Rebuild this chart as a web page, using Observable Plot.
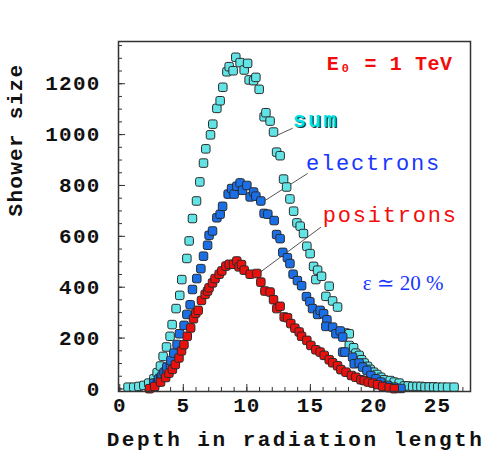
<!DOCTYPE html>
<html>
<head>
<meta charset="utf-8">
<script src="https://cdn.jsdelivr.net/npm/d3@7"></script>
<script src="https://cdn.jsdelivr.net/npm/@observablehq/plot@0.6"></script>
<style>
  html, body { margin: 0; padding: 0; background: #fff; }
</style>
</head>
<body>
<div id="chart"></div>
<script>
// ---- data ----
const sumDepth = [0.65,1.10,1.50,1.89,2.28,2.68,2.94,3.20,3.41,3.68,3.96,4.12,4.43,4.72,4.88,5.28,5.46,5.72,6.04,6.30,6.59,6.77,7.14,7.32,7.64,7.90,8.11,8.43,8.61,8.92,9.13,9.47,9.79,10.06,10.18,10.53,10.71,10.97,11.36,11.50,11.83,12.10,12.34,12.62,12.89,13.13,13.39,13.68,13.94,14.20,14.46,14.72,14.98,15.25,15.57,15.43,15.88,16.22,16.48,16.75,17.14,17.80,18.06,18.06,18.40,18.58,18.84,19.03,19.24,19.50,19.71,19.98,20.24,20.55,20.81,21.28,21.60,21.99,22.39,22.70,23.05,23.39,23.70,24.02,24.35,24.70,25.02,25.41,25.80,26.31];
const sumSize  = [7,7,10,14,23,40,64,90,128,165,207,253,316,368,430,513,582,670,739,814,888,944,999,1041,1103,1133,1186,1247,1267,1251,1304,1283,1254,1280,1215,1212,1225,1178,1070,1086,1053,1010,931,917,825,794,747,699,653,640,611,561,532,482,467,430,443,364,404,346,322,220,217,171,162,141,132,115,102,89,77,66,57,46,36,33,27,23,12,12,10,10,10,8,8,8,7,7,7,7];

const elecDepth = [2.68,2.97,3.07,3.23,3.33,3.49,3.68,3.70,3.99,4.02,4.25,4.51,4.70,5.06,5.28,5.54,5.72,6.06,6.38,6.59,6.91,7.03,7.30,7.64,7.90,8.09,8.53,8.80,9.00,9.21,9.47,9.66,10.00,10.26,10.53,10.71,11.10,11.36,11.65,12.15,12.34,12.62,12.83,13.19,13.39,13.64,13.98,14.31,14.69,14.96,15.17,15.57,15.77,16.04,16.30,16.22,16.75,17.01,17.35,17.54,17.54,17.72,18.32,18.45,18.84,19.11,19.45,19.76,20.16,20.55,21.08,21.60,22.13];
const elecSize  = [23,27,40,46,53,66,73,86,93,112,141,175,217,250,293,331,391,434,473,522,565,604,621,673,687,718,766,788,766,797,810,781,800,755,774,758,739,690,687,662,607,591,537,516,493,451,426,406,363,343,316,293,309,296,272,246,243,217,228,204,145,145,125,99,102,86,73,53,40,27,14,7,2];

const posDepth = [2.34,2.75,3.21,3.61,3.87,4.14,4.37,4.66,4.86,5.05,5.31,5.58,5.80,5.98,6.17,6.43,6.72,6.91,7.03,7.30,7.50,7.82,8.03,8.35,8.61,8.95,9.21,9.39,9.58,9.79,10.26,10.79,11.10,11.42,11.83,12.10,12.36,12.62,12.94,13.20,13.46,13.78,14.12,14.31,14.72,15.04,15.43,15.77,16.09,16.48,16.75,17.14,17.40,17.80,18.23,18.58,18.98,19.24,19.55,19.90,20.29,20.69,21.20,21.60];
const posSize  = [1,10,27,45,62,77,96,122,150,174,207,240,276,298,309,348,372,385,398,417,434,451,464,483,490,490,503,480,489,467,451,454,420,385,381,351,316,325,283,280,257,239,224,207,191,171,154,145,132,115,103,91,76,66,53,46,36,33,27,23,17,10,5,1];

const xTickLabels = [0, 5, 10, 15, 20, 25];
const yTickLabels = [0, 200, 400, 600, 800, 1000, 1200];
const xMinorTicks = d3.range(0, 28, 1);
const yMinorTicks = d3.range(0, 1351, 50);

// label texts and anchors (data coordinates)
const labelText  = ["sum", "electrons", "positrons"];
const labelDepth = [13.62, 14.65, 15.98];
const labelSize  = [1057, 888, 683];
const leaderX1 = [12.42, 11.24, 10.94];
const leaderY1 = [998, 735, 455];
const leaderX2 = [13.60, 14.78, 15.83];
const leaderY2 = [1025, 847, 636];

const seriesColor = {sum: "#62e4e6", electrons: "#1a6fe6", positrons: "#e8110e"};

// ---- build tables ----
const toPts = (xs, ys) => xs.map((x, i) => ({x, y: ys[i]}));
const sumPts = toPts(sumDepth, sumSize);
const elecPts = toPts(elecDepth, elecSize);
const posPts = toPts(posDepth, posSize);
const labels = labelText.map((t, i) => ({t, x: labelDepth[i], y: labelSize[i]}));
const leaders = leaderX1.map((x1, i) => ({x1, y1: leaderY1[i], x2: leaderX2[i], y2: leaderY2[i]}));

// rounded square symbol
const roundSquare = {
  draw(ctx, size) {
    const s = Math.sqrt(size), h = s / 2, r = s * 0.22;
    ctx.moveTo(-h + r, -h);
    ctx.arcTo(h, -h, h, h, r);
    ctx.arcTo(h, h, -h, h, r);
    ctx.arcTo(-h, h, -h, -h, r);
    ctx.arcTo(-h, -h, h, -h, r);
    ctx.closePath();
  }
};

const mono = "'Liberation Mono', 'DejaVu Sans Mono', monospace";
const dotOpts = (fill) => ({x: "x", y: "y", symbol: roundSquare, r: 4.8, fill, stroke: "#2a2a2a", strokeWidth: 1});

const plot = Plot.plot({
  width: 484,
  height: 459,
  marginLeft: 118,
  marginRight: 14,
  marginTop: 41,
  marginBottom: 68,
  style: {fontFamily: mono, background: "#fff"},
  x: {domain: [-0.1, 27.6], axis: null},
  y: {domain: [-10, 1366], axis: null},
  marks: [
    // tick marks pointing inward
    Plot.tickX(xMinorTicks, {x: d => d, insetTop: 346, stroke: "#333", strokeWidth: 1}),
    Plot.tickX(xTickLabels, {x: d => d, insetTop: 343, stroke: "#333", strokeWidth: 1}),
    Plot.tickY(yMinorTicks, {y: d => d, insetRight: 348, stroke: "#333", strokeWidth: 1}),
    Plot.tickY(yTickLabels, {y: d => d, insetRight: 345, stroke: "#333", strokeWidth: 1}),
    Plot.axisX({ticks: xTickLabels, tickSize: 0, tickPadding: 6, label: null, tickFormat: d => String(d), fontSize: 21, fontWeight: "bold", fill: "#111"}),
    Plot.axisY({ticks: yTickLabels, tickSize: 0, tickPadding: 18, label: null, tickFormat: d => String(d), fontSize: 21, fontWeight: "bold", fill: "#111"}),
    // leader lines
    Plot.link(leaders, {x1: "x1", y1: "y1", x2: "x2", y2: "y2", stroke: "#555", strokeWidth: 1}),
    // data
    Plot.dot(sumPts, dotOpts(seriesColor.sum)),
    Plot.dot(elecPts, dotOpts(seriesColor.electrons)),
    Plot.dot(posPts, dotOpts(seriesColor.positrons)),
    // labels
    Plot.text([labels[0]], {x: "x", y: "y", text: "t", textAnchor: "start", dx: 1.2, dy: 1.2, fill: "#1a3a3a", fontSize: 22, fontWeight: "bold"}),
    Plot.text([labels[0]], {x: "x", y: "y", text: "t", textAnchor: "start", fill: "#00e2e6", fontSize: 22, fontWeight: "bold"}),
    Plot.text([labels[1]], {x: "x", y: "y", text: "t", textAnchor: "start", fill: "#1836ff", fontSize: 22}),
    Plot.text([labels[2]], {x: "x", y: "y", text: "t", textAnchor: "start", fill: "#f20c0c", fontSize: 22}),
    Plot.text(["E₀ = 1 TeV"], {x: 26.2, y: 1281, text: d => d, textAnchor: "end", fill: "#f20c0c", fontSize: 20, fontWeight: "bold"}),
    Plot.text(["ε ≃ 20 %"], {x: 19.13, y: 415, text: d => d, textAnchor: "start", fill: "#1836ff", fontSize: 21, fontFamily: "'Liberation Serif', 'DejaVu Serif', serif"}),
    // axis titles
    Plot.text(["Depth in radiation length"], {frameAnchor: "bottom", dy: 54, dx: 1, text: d => d, fontSize: 21, fontWeight: "bold", fill: "#111"}),
    Plot.text(["Shower size"], {frameAnchor: "left", dx: -103, rotate: -90, text: d => d, fontSize: 21, fontWeight: "bold", fill: "#111"}),
    Plot.frame({stroke: "#333", strokeWidth: 1.5})
  ]
});

document.getElementById("chart").appendChild(plot);

// letter spacing tweaks (select texts by their content)
const byText = (s) => d3.select(plot).selectAll("text").filter(function () { return this.textContent === s; });
byText("Depth in radiation length").style("letter-spacing", "2.5px");
byText("Shower size").style("letter-spacing", "1.3px");
byText("electrons").style("letter-spacing", "1.8px");
byText("positrons").style("letter-spacing", "1.8px");
byText("sum").style("letter-spacing", "2px");
byText("E₀ = 1 TeV").style("letter-spacing", "0.6px");
d3.select(plot).selectAll('g[aria-label="y-axis tick label"] text').style("letter-spacing", "1.2px");
d3.select(plot).selectAll('g[aria-label="x-axis tick label"] text').style("letter-spacing", "1px");
</script>
</body>
</html>
